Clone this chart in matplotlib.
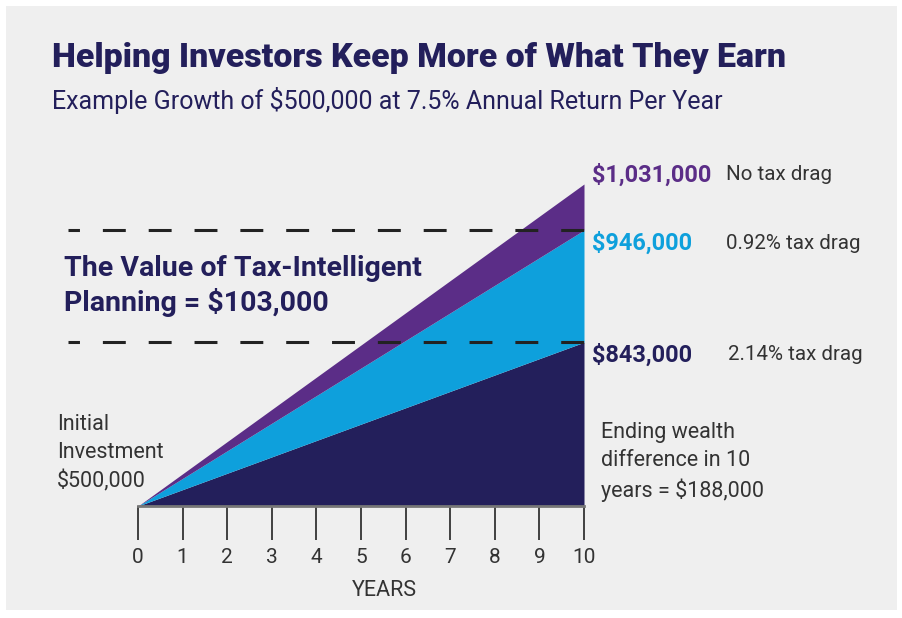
import matplotlib.pyplot as plt
from matplotlib.patches import Rectangle

# data
years = [0, 10]
start_value = 500000
end_labels = ["$1,031,000", "$946,000", "$843,000"]
drag_labels = ["No tax drag", "0.92% tax drag", "2.14% tax drag"]
# ending heights as drawn in the picture (the original art is not to scale)
drawn_end = [1031000, 955000, 770000]
colors = ["#5b2d87", "#0ea0dc", "#231f5b"]
tick_years = list(range(11))

W, H = 902, 618
fig = plt.figure(figsize=(W / 100, H / 100), dpi=100)
fig.patch.set_facecolor("white")
fig.add_artist(Rectangle((6 / W, 1 - 610 / H), 891 / W, 604 / H,
                         transform=fig.transFigure, facecolor="#efefef",
                         edgecolor="none", zorder=0))

navy = "#231f5b"
grey_txt = "#333333"
plt.rcParams['font.family'] = ['Roboto', 'DejaVu Sans']


def px(x, y):
    return x / W, 1 - y / H


# chart axes: x=0 at 138px, x=10 at 584px, baseline at 506px, top at 184px
left_px = 68
ax = fig.add_axes([left_px / W, 1 - 506 / H, (584 - left_px) / W, 322 / H])
ax.set_facecolor("none")
ax.set_xlim(-(138 - left_px) / 44.6, 10)
ax.set_ylim(start_value, drawn_end[0])

# stacked wedges, bottom first
lines = [[start_value, v] for v in drawn_end]
ax.fill_between(years, start_value, lines[2], color=colors[2], lw=0, zorder=2)
ax.fill_between(years, lines[2], lines[1], color=colors[1], lw=0, zorder=2)
ax.fill_between(years, lines[1], lines[0], color=colors[0], lw=0, zorder=2)

# dashed reference lines at the two taxed outcomes
for v in drawn_end[1:]:
    ax.plot([ax.get_xlim()[0], 10], [v, v], color="#222222", lw=2.2,
            linestyle=(3.75, (7.5, 7.5)), dash_capstyle="butt", zorder=3,
            clip_on=False)

for s in ["top", "right", "left"]:
    ax.spines[s].set_visible(False)
ax.spines["bottom"].set_bounds(0, 10)
ax.spines["bottom"].set_color("#777777")
ax.spines["bottom"].set_linewidth(2)
ax.spines["bottom"].set_zorder(4)
ax.set_yticks([])
ax.set_xticks(tick_years)
ax.tick_params(axis="x", direction="out", length=24.5, width=1.3,
               color=grey_txt, pad=6, labelsize=15, labelcolor=grey_txt)
fig.text(*px(384, 591), "YEARS", fontsize=15.5, color=grey_txt,
         va="center", ha="center")

# titles
fig.text(*px(52, 58), "Helping Investors Keep More of What They Earn",
         fontsize=24.4, fontweight="black", color=navy, va="center", ha="left")
fig.text(*px(52, 100), "Example Growth of $500,000 at 7.5% Annual Return Per Year",
         fontsize=18, color=navy, va="center", ha="left")

# inner callout
fig.text(*px(64, 268), "The Value of Tax-Intelligent", fontsize=20.5,
         fontweight="bold", color=navy, va="center", ha="left")
fig.text(*px(64, 302), "Planning = $103,000", fontsize=20.5,
         fontweight="bold", color=navy, va="center", ha="left")

# right-hand labels
label_y = [175, 243, 355]
drag_x = [726, 726, 728]
for lab, drag, c, y, dx in zip(end_labels, drag_labels, colors, label_y, drag_x):
    fig.text(*px(592, y), lab, fontsize=16.9, fontweight="bold", color=c,
             va="center", ha="left")
    fig.text(*px(dx, y), drag, fontsize=14.8, color=grey_txt,
             va="center", ha="left")

fig.text(*px(57, 453), "Initial\nInvestment\n$500,000", fontsize=15.5,
         color=grey_txt, va="center", ha="left", linespacing=1.42)
fig.text(*px(601, 462), "Ending wealth\ndifference in 10\nyears = $188,000",
         fontsize=15.5, color=grey_txt, va="center", ha="left", linespacing=1.42)

plt.savefig("out.png", dpi=100)
plt.close()
